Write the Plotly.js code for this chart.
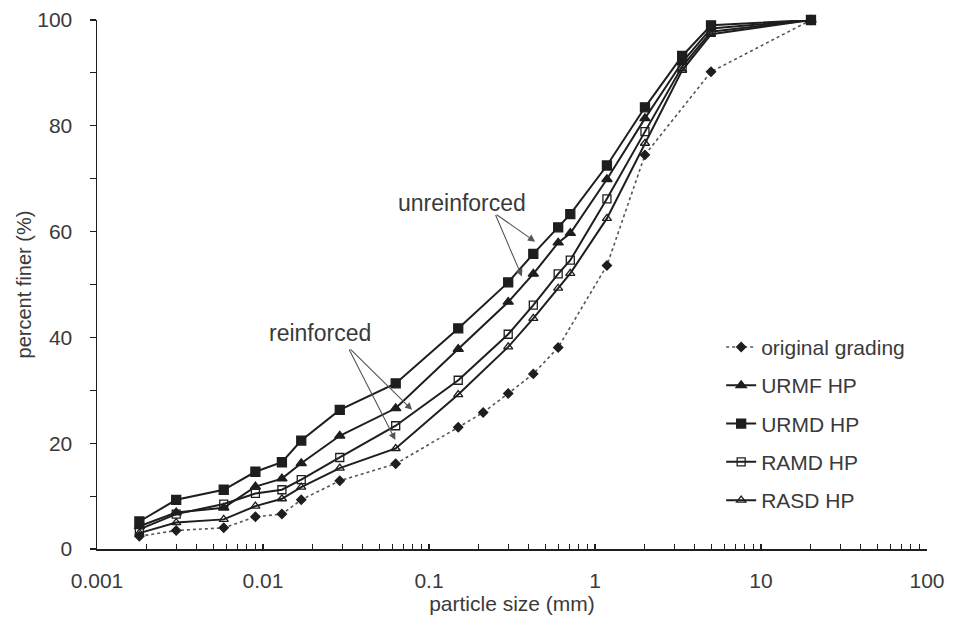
<!DOCTYPE html>
<html>
<head>
<meta charset="utf-8">
<script src="https://cdn.plot.ly/plotly-3.0.1.min.js"></script>
<style>html,body{margin:0;padding:0;background:#fff;}#chart{width:953px;height:625px;}</style>
</head>
<body>
<div id="chart"></div>
<script>
// particle sizes (mm)
const sizesHP = [0.0018, 0.003, 0.0058, 0.009, 0.013, 0.017, 0.029, 0.063, 0.15, 0.3, 0.425, 0.6, 0.71, 1.18, 2, 3.35, 5, 20];
const sizesOrig = [0.0018, 0.003, 0.0058, 0.009, 0.013, 0.017, 0.029, 0.063, 0.15, 0.212, 0.3, 0.425, 0.6, 1.18, 2, 5, 20];
// percent finer (%)
const origGrading = [2.4, 3.5, 4.0, 6.1, 6.6, 9.3, 12.9, 16.1, 23.0, 25.8, 29.4, 33.1, 38.1, 53.6, 74.5, 90.2, 100];
const urmfHP = [4.3, 6.9, 7.8, 11.8, 13.3, 16.2, 21.4, 26.6, 37.8, 46.7, 52.0, 57.9, 59.7, 69.9, 81.4, 92.0, 98.4, 100];
const urmdHP = [5.2, 9.3, 11.2, 14.6, 16.4, 20.5, 26.3, 31.3, 41.7, 50.4, 55.8, 60.8, 63.3, 72.5, 83.5, 93.2, 99.0, 100];
const ramdHP = [3.7, 6.6, 8.5, 10.5, 11.2, 13.1, 17.3, 23.3, 31.9, 40.6, 46.1, 52.0, 54.6, 66.2, 78.9, 91.2, 97.8, 100];
const rasdHP = [3.0, 5.0, 5.6, 8.1, 9.5, 11.7, 15.3, 19.0, 29.2, 38.2, 43.6, 49.3, 52.1, 62.5, 76.7, 90.5, 97.3, 100];
const seriesNames = ["original grading", "URMF HP", "URMD HP", "RAMD HP", "RASD HP"];
const xTickVals = [0.001, 0.01, 0.1, 1, 10, 100];
const xTickText = ["0.001", "0.01", "0.1", "1", "10", "100"];
const yTickVals = [0, 20, 40, 60, 80, 100];
const yTickText = ["0", "20", "40", "60", "80", "100"];

const FONT = "Liberation Sans, Arial, sans-serif";
const LINE = "#1e1e1e";
const TEXT = "#3a3a3a";

function tr(name, x, y, symbol, size, dash, lw, lc, i) {
  return {
    type: "scatter", mode: "lines+markers", name: name, x: x, y: y,
    legendgroup: "g" + i, cliponaxis: false,
    line: {color: lc, width: lw, dash: dash},
    marker: {symbol: symbol, size: size, color: LINE, line: {color: LINE, width: 1.3}}
  };
}

const data = [
  tr(seriesNames[0], sizesOrig, origGrading, "diamond", 7, "dot", 1.6, "#555", 0),
  tr(seriesNames[1], sizesHP, urmfHP, "triangle-up", 9, "solid", 2, LINE, 1),
  tr(seriesNames[2], sizesHP, urmdHP, "square", 9, "solid", 2, LINE, 2),
  tr(seriesNames[3], sizesHP, ramdHP, "square-open", 8, "solid", 2, LINE, 3),
  tr(seriesNames[4], sizesHP, rasdHP, "triangle-up-open", 8, "solid", 2, LINE, 4)
];

const L = Math.log10;
const arrowStyle = {showarrow: true, arrowhead: 2, arrowsize: 1.3, arrowwidth: 1.1, arrowcolor: "#555", text: "", axref: "pixel", ayref: "pixel"};
const annotations = [
  {x: L(0.158), y: 65.4, text: "unreinforced", showarrow: false, font: {family: FONT, size: 23, color: TEXT}},
  {x: L(0.0221), y: 40.8, text: "reinforced", showarrow: false, font: {family: FONT, size: 23, color: TEXT}},
  Object.assign({x: L(0.436), y: 58.1, ax: -40, ay: -28}, arrowStyle),
  Object.assign({x: L(0.363), y: 51.5, ax: -27, ay: -63}, arrowStyle),
  Object.assign({x: L(0.0791), y: 26.3, ax: -63, ay: -62}, arrowStyle),
  Object.assign({x: L(0.0627), y: 20.6, ax: -47, ay: -92}, arrowStyle)
];

const layout = {
  width: 953, height: 625,
  margin: {l: 97, r: 26, t: 20, b: 76, pad: 0},
  paper_bgcolor: "#fff", plot_bgcolor: "#fff",
  font: {family: FONT, size: 21, color: TEXT},
  showlegend: true,
  legend: {x: 0.752, y: 0.42, xanchor: "left", yanchor: "top", bgcolor: "rgba(0,0,0,0)",
           font: {family: FONT, size: 21, color: TEXT}, tracegroupgap: 8, itemwidth: 30},
  xaxis: {
    type: "log", range: [-3, 2],
    tickmode: "array", tickvals: xTickVals, ticktext: xTickText,
    ticks: "inside", ticklen: 5, tickwidth: 1.2, tickcolor: LINE,
    minor: {dtick: "D1", ticks: "inside", ticklen: 5, tickwidth: 1, tickcolor: LINE, showgrid: false},
    showline: true, linecolor: LINE, linewidth: 1.5, showgrid: false, zeroline: false,
    ticklabelstandoff: 12,
    tickfont: {family: FONT, size: 21, color: TEXT},
    title: {text: "particle size (mm)", font: {family: FONT, size: 21, color: TEXT}, standoff: 3}
  },
  yaxis: {
    range: [0, 100],
    tickmode: "array", tickvals: yTickVals, ticktext: yTickText,
    ticks: "outside", ticklen: 6, tickwidth: 1.2, tickcolor: LINE,
    minor: {dtick: 10, ticks: "outside", ticklen: 6, tickwidth: 1, tickcolor: LINE, showgrid: false},
    showline: true, linecolor: LINE, linewidth: 1.5, showgrid: false, zeroline: false,
    ticklabelstandoff: 13,
    tickfont: {family: FONT, size: 21, color: TEXT},
    title: {text: "percent finer (%)", font: {family: FONT, size: 20, color: TEXT}, standoff: 0}
  },
  annotations: annotations
};

Plotly.newPlot("chart", data, layout, {displayModeBar: false, staticPlot: true});
</script>
</body>
</html>
